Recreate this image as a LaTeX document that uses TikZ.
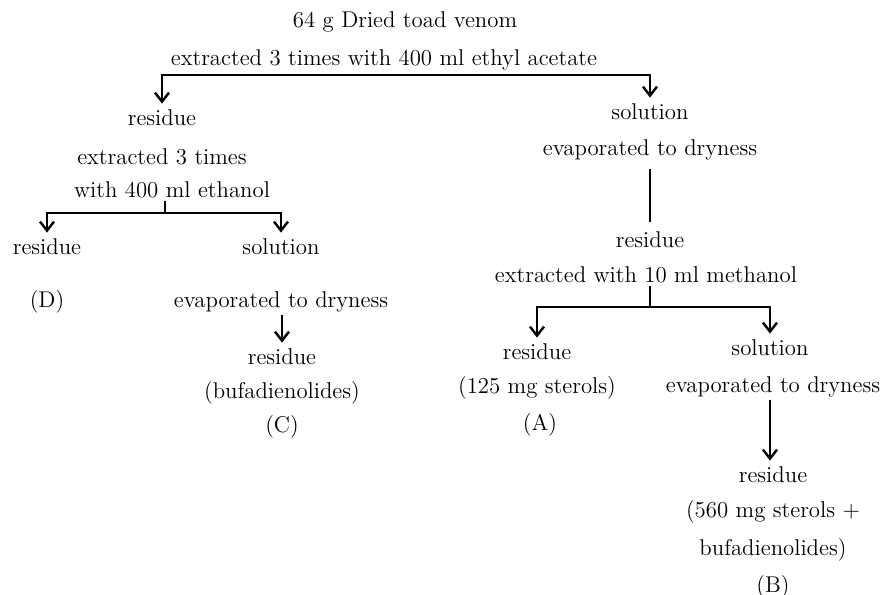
\documentclass[tikz,border=0pt]{standalone}
\usetikzlibrary{arrows.meta}
\begin{document}
\begin{tikzpicture}[x=0.5pt,y=-0.5pt,font=\fontsize{11.4}{13}\selectfont,
lbl/.style={inner sep=1pt},
arr/.style={-{Straight Barb[length=4.5pt,width=7pt,line width=1.2pt]},line width=1.2pt,shorten >=2pt},
ln/.style={line width=1.2pt}]
\useasboundingbox (0,0) rectangle (885,595);

% start and first extraction
\node[lbl] (toad)at(405,22){64 g Dried toad venom};
\node[lbl] (ext1)at(384,60){extracted 3 times with 400 ml ethyl acetate};
\node[lbl] (res1)at(162,118){residue};
\node[lbl] (sol1)at(650,112){solution};
\coordinate (b1)at(384,75);
\draw[arr](b1)-|(res1.north);
\draw[arr](b1)-|(sol1.north);

% left branch: ethanol
\node[lbl] (ext2a)at(162,157){extracted 3 times};
\node[lbl] (ext2b)at(172,190){with 400 ml ethanol};
\node[lbl] (res3)at(47,247){residue};
\node[lbl] (sol3)at(281,247){solution};
\node[lbl] (D)at(47,302){(D)};
\node[lbl] (ev3)at(281,302){evaporated to dryness};
\node[lbl] (res4)at(282,357){residue};
\node[lbl] (bufa)at(282,393){(bufadienolides)};
\node[lbl] (C)at(282,427){(C)};
\coordinate (b2)at(165,213);
\draw[ln](b2|-ext2b.south)--(b2);
\draw[arr](b2)-|(res3.north);
\draw[arr](b2)-|(sol3.north);
\draw[arr](ev3.south-|res4)--(res4.north);

% right branch: methanol
\node[lbl] (ev1)at(650,150){evaporated to dryness};
\node[lbl] (res2)at(650,240){residue};
\node[lbl] (ext3)at(646,275){extracted with 10 ml methanol};
\draw[ln]([yshift=-3pt]ev1.south)--([yshift=4pt]res2.north);
\node[lbl] (res5)at(537,352){residue};
\node[lbl] (ster)at(537,388){(125 mg sterols)};
\node[lbl] (A)at(540,425){(A)};
\node[lbl] (sol5)at(770,348){solution};
\node[lbl] (ev5)at(773,387){evaporated to dryness};
\node[lbl] (res6)at(773,475){residue};
\node[lbl] (mix1)at(773,512){(560 mg sterols +};
\node[lbl] (mix2)at(773,550){bufadienolides)};
\node[lbl] (B)at(773,587){(B)};
\coordinate (b3)at(650,307);
\draw[ln](b3|-ext3.south)--(b3);
\draw[arr](b3)-|(res5.north);
\draw[arr](b3)-|(sol5.north);
\draw[arr](ev5.south-|sol5)--(sol5|-res6.north);
\end{tikzpicture}
\end{document}
